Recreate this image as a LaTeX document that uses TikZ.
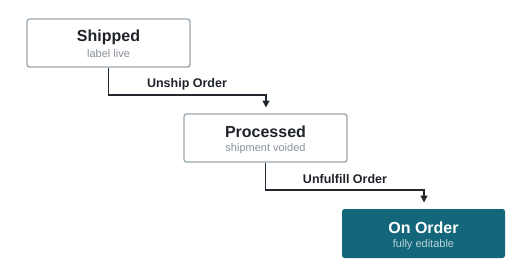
\documentclass[tikz,border=0pt]{standalone}
\usepackage{fontspec}
\setmainfont{Liberation Sans}
\usetikzlibrary{arrows.meta}
\definecolor{boxborder}{HTML}{9AA5AE}
\definecolor{subgray}{HTML}{8A9299}
\definecolor{titledark}{HTML}{1F2328}
\definecolor{teal}{HTML}{14667A}
\definecolor{sublight}{HTML}{B8D4DC}
\definecolor{linedark}{HTML}{22282D}
\begin{document}
\begin{tikzpicture}[x=1pt,y=-1pt,
  statebox/.style={draw=boxborder, line width=1.3pt, rounded corners=2.5pt, fill=white, minimum width=163pt, minimum height=48pt, inner sep=0pt},
  donebox/.style={fill=teal, rounded corners=2.5pt, minimum width=163pt, minimum height=49pt, inner sep=0pt},
  ttl/.style={font=\fontsize{16}{18}\selectfont\bfseries, text=titledark},
  sub/.style={font=\fontsize{11}{13}\selectfont, text=subgray},
  conn/.style={draw=linedark, line width=1.4pt, -{Triangle[width=7pt,length=7pt]}},
  lbl/.style={font=\fontsize{12.5}{14}\selectfont\bfseries, text=titledark}
]
\useasboundingbox (0,0) rectangle (532,277);
\node[statebox] (b1) at (108.5,43) {};
\node[ttl] (t1) at (108.5,37) {Shipped};
\node[sub] (s1) at (108.5,54) {label live};
\node[statebox] (b2) at (265.5,138) {};
\node[ttl] (t2) at (265.5,132) {Processed};
\node[sub] (s2) at (265.5,149) {shipment voided};
\node[donebox] (b3) at (423.5,233.5) {};
\node[ttl, text=white] (t3) at (423.5,227.5) {On Order};
\node[sub, text=sublight] (s3) at (423.5,244.5) {fully editable};
\coordinate (e1) at (266,107.5);
\coordinate (e2) at (424,202.5);
\draw[conn] (b1.south) |- (266,95) -- (e1);
\draw[conn] (b2.south) |- (424,190) -- (e2);
\node[lbl] (l1) at (187,84) {Unship Order};
\node[lbl] (l2) at (345,179) {Unfulfill Order};
\end{tikzpicture}
\end{document}
